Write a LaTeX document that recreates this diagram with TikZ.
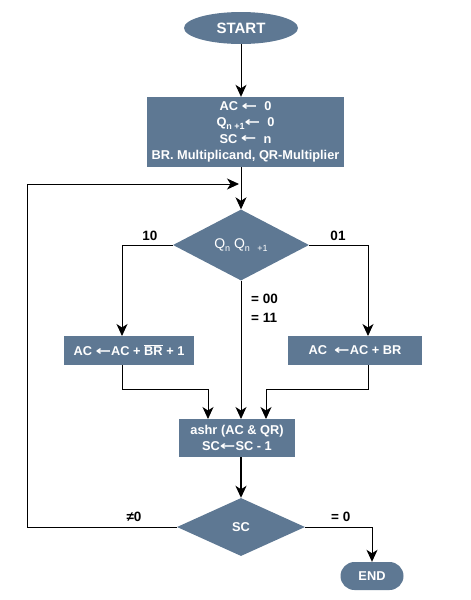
\documentclass[tikz,border=0pt]{standalone}
\usepackage{fontspec}
\setmainfont{Liberation Sans}
\newfontfamily\arrf{DejaVu Sans}
\usetikzlibrary{shapes.geometric,arrows.meta}
\definecolor{boxfill}{HTML}{5E7893}
\tikzset{
  blk/.style={fill=boxfill,text=white,font=\bfseries\fontsize{12.8}{16.3}\selectfont,inner sep=0pt,align=center},
  boxn/.style={blk,rectangle},
  dia/.style={blk,diamond,aspect=1.9},
  arr/.style={line width=0.9pt,-{Stealth[length=12pt,width=11pt,inset=3.5pt]}},
  lbl/.style={font=\bfseries\fontsize{13.5}{16}\selectfont,inner sep=0pt}
}
\newcommand{\subs}[1]{\raisebox{-2.5pt}{\fontsize{9}{9}\selectfont #1}}
\newcommand{\la}{\raisebox{0.3pt}{\scalebox{1.45}[1]{\arrf\bfseries ←}}}
\begin{document}
\begin{tikzpicture}[x=1pt,y=-1pt]
\useasboundingbox (0,0) rectangle (471,600);
\node[blk,ellipse,minimum width=114pt,minimum height=32pt,font=\bfseries\fontsize{15}{17}\selectfont] (start) at (241,28) {START};
\node[boxn,minimum width=197pt,minimum height=70pt] (init) at (245.5,132)
  {AC \la\ \ 0\\ Q\subs{n +1}\la\ \ 0\\ SC \la\ \ n\\ BR. Multiplicand, QR-Multiplier};
\node[dia,minimum width=136pt,minimum height=71pt,font=\fontsize{14}{15}\selectfont] (d1) at (241,245) {Q\subs{n} Q\subs{n\;\; +1}};
\node[boxn,minimum width=130pt,minimum height=29pt] (lb) at (129,350.5) {AC \la AC + $\overline{\mbox{BR}}$ + 1};
\node[boxn,minimum width=134pt,minimum height=29pt] (rb) at (355,350.5) {AC \ \la AC + BR};
\node[boxn,minimum width=116pt,minimum height=38pt] (ash) at (237,438) {ashr (AC \& QR)\\ SC\la SC - 1};
\node[dia,minimum width=128pt,minimum height=58pt] (d2) at (241,527) {SC};
\node[blk,rectangle,rounded corners=14pt,minimum width=63pt,minimum height=28pt] (end) at (372,576) {END};
% coordinates
\coordinate (loopL) at (27,527);
\coordinate (loopT) at (27,184);
\coordinate (join) at (239,184);
\coordinate (lin) at (122,336);
\coordinate (rin) at (368,336);
\coordinate (lout) at (122,365);
\coordinate (lmid1) at (122,389);
\coordinate (lmid2) at (208,389);
\coordinate (lend) at (208,419);
\coordinate (rout) at (368,365);
\coordinate (rmid1) at (368,389);
\coordinate (rmid2) at (266,389);
\coordinate (rend) at (266,419);
\coordinate (ib) at (241,167);
\coordinate (mend) at (241,419);
\coordinate (ashb) at (241,457);
% connectors
\draw[arr] (start.south) -- (start.south |- init.north);
\draw[arr] (ib) -- (d1.north);
\draw[arr] (d2.west) -- (loopL) -- (loopT) -- (join);
\draw[arr] (d1.west) -| (lin);
\draw[arr] (d1.east) -| (rin);
\draw[arr] (d1.south) -- (mend);
\draw[arr] (lout) -- (lmid1) -- (lmid2) -- (lend);
\draw[arr] (rout) -- (rmid1) -- (rmid2) -- (rend);
\draw[arr,line width=2pt] (ashb) -- (d2.north);
\draw[arr] (d2.east) -| (end.north);
% labels
\node[lbl] (l10) at (150,236) {10};
\node[lbl] (l01) at (338,236) {01};
\node[lbl,anchor=west] (l00) at (251,299) {= 00};
\node[lbl,anchor=west] (l11) at (251,318) {= 11};
\node[lbl] (lne) at (134,517) {≠0};
\node[lbl,anchor=west] (leq) at (331,517) {= 0};
\end{tikzpicture}
\end{document}
